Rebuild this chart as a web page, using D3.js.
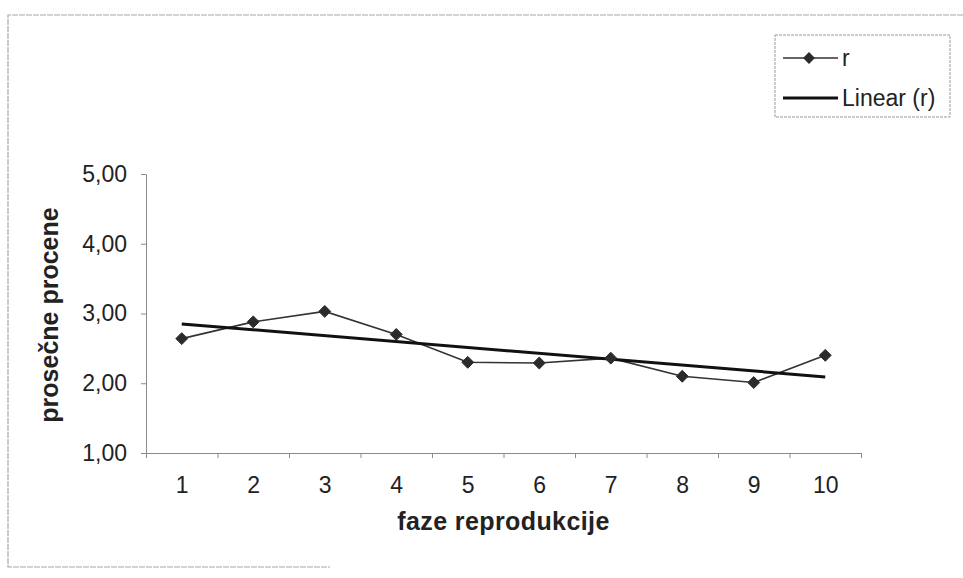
<!DOCTYPE html>
<html>
<head>
<meta charset="utf-8">
<script src="https://cdn.jsdelivr.net/npm/d3@7/dist/d3.min.js"></script>
<style>
  body { margin: 0; background: #fff; }
  svg { display: block; font-family: "Liberation Sans", Arial, sans-serif; }
  .axis path, .axis line { stroke: #8a8a8a; stroke-width: 1px; }
  .axis text { fill: #222; font-size: 23px; }
</style>
</head>
<body>
<div id="chart"></div>
<script>

// data
var categories = [1, 2, 3, 4, 5, 6, 7, 8, 9, 10];
var values = [2.64, 2.88, 3.03, 2.70, 2.30, 2.29, 2.36, 2.10, 2.01, 2.40];
var yTicks = [1, 2, 3, 4, 5];
var seriesNames = ['r', 'Linear (r)'];
var xTitle = 'faze reprodukcije';
var yTitle = 'prosečne procene';

var width = 963, height = 578;
var plot = {left: 146, right: 861, top: 174, bottom: 453};

var svg = d3.select('#chart').append('svg')
    .attr('width', width)
    .attr('height', height);

// chart frame (only top, left and a faded bottom edge show in the scan)
svg.append('path')
    .attr('d', 'M963,15 L8,15 L8,567 L330,567')
    .attr('fill', 'none')
    .attr('stroke', '#a8a8a8')
    .attr('stroke-width', 1.2)
    .attr('stroke-dasharray', '6,1');

var x = d3.scaleLinear()
    .domain([0.5, categories.length + 0.5])
    .range([plot.left, plot.right]);

var y = d3.scaleLinear()
    .domain([1, 5])
    .range([plot.bottom, plot.top]);

// y axis
svg.append('g')
    .attr('class', 'axis')
    .attr('transform', 'translate(' + plot.left + ',0)')
    .call(d3.axisLeft(y)
        .tickValues(yTicks)
        .tickSize(5)
        .tickPadding(14)
        .tickSizeOuter(0)
        .tickFormat(function(d){ return d3.format('.2f')(d).replace('.', ','); }));

// x axis: ticks between categories
svg.append('g')
    .attr('class', 'axis')
    .attr('transform', 'translate(0,' + plot.bottom + ')')
    .call(d3.axisBottom(x)
        .tickValues(d3.range(0.5, categories.length + 1, 1))
        .tickSize(5)
        .tickSizeOuter(0)
        .tickFormat(''));

// x labels at the category centres
svg.append('g')
    .attr('class', 'axis')
    .attr('transform', 'translate(0,' + plot.bottom + ')')
    .call(d3.axisBottom(x)
        .tickValues(categories)
        .tickSize(0)
        .tickPadding(24)
        .tickFormat(d3.format('d')))
    .call(function(g){ g.select('.domain').remove(); });

// linear trend from the series
var mx = d3.mean(categories), my = d3.mean(values);
var sxy = d3.sum(categories, function(c, i){ return (c - mx) * (values[i] - my); });
var sxx = d3.sum(categories, function(c){ return (c - mx) * (c - mx); });
var slope = sxy / sxx, intercept = my - slope * mx;
var trend = [categories[0], categories[categories.length - 1]].map(function(c){
    return {c: c, v: intercept + slope * c};
});

var line = d3.line()
    .x(function(d){ return x(d.c); })
    .y(function(d){ return y(d.v); });

var pts = categories.map(function(c, i){ return {c: c, v: values[i]}; });

svg.append('path')
    .datum(pts)
    .attr('d', line)
    .attr('fill', 'none')
    .attr('stroke', '#333')
    .attr('stroke-width', 1.6);

svg.append('path')
    .datum(trend)
    .attr('d', line)
    .attr('fill', 'none')
    .attr('stroke', '#111')
    .attr('stroke-width', 3);

var diamond = d3.symbol().type(d3.symbolDiamond2).size(90);

svg.selectAll('.marker')
    .data(pts).enter()
    .append('path')
    .attr('class', 'marker')
    .attr('d', diamond)
    .attr('transform', function(d){ return 'translate(' + x(d.c) + ',' + y(d.v) + ')'; })
    .attr('fill', '#2b2b2b')
    .attr('stroke', '#2b2b2b')
    .attr('stroke-width', 1);

// axis titles
svg.append('text')
    .attr('x', (plot.left + plot.right) / 2)
    .attr('y', 530)
    .attr('text-anchor', 'middle')
    .style('font-size', '25px')
    .style('font-weight', 'bold')
    .style('letter-spacing', '0.4px')
    .style('fill', '#222')
    .text(xTitle);

svg.append('text')
    .attr('transform', 'translate(58,315) rotate(-90)')
    .attr('text-anchor', 'middle')
    .style('font-size', '25px')
    .style('font-weight', 'bold')
    .style('fill', '#222')
    .text(yTitle);

// legend
var legend = svg.append('g');
legend.append('rect')
    .attr('x', 775).attr('y', 35)
    .attr('width', 175).attr('height', 82)
    .attr('fill', 'none')
    .attr('stroke', '#9a9a9a')
    .attr('stroke-width', 1)
    .attr('stroke-dasharray', '3,1');

var rows = legend.selectAll('.row')
    .data(seriesNames).enter()
    .append('g')
    .attr('transform', function(d, i){ return 'translate(0,' + (58 + i * 40) + ')'; });

rows.append('line')
    .attr('x1', 783).attr('x2', 838)
    .attr('stroke', function(d, i){ return i ? '#111' : '#333'; })
    .attr('stroke-width', function(d, i){ return i ? 3 : 1.6; });

rows.filter(function(d, i){ return i === 0; })
    .append('path')
    .attr('d', diamond)
    .attr('transform', 'translate(809,0)')
    .attr('fill', '#2b2b2b');

rows.append('text')
    .attr('x', 842)
    .attr('dy', '0.36em')
    .style('font-size', '23px')
    .style('fill', '#222')
    .text(function(d){ return d; });

</script>
</body>
</html>
